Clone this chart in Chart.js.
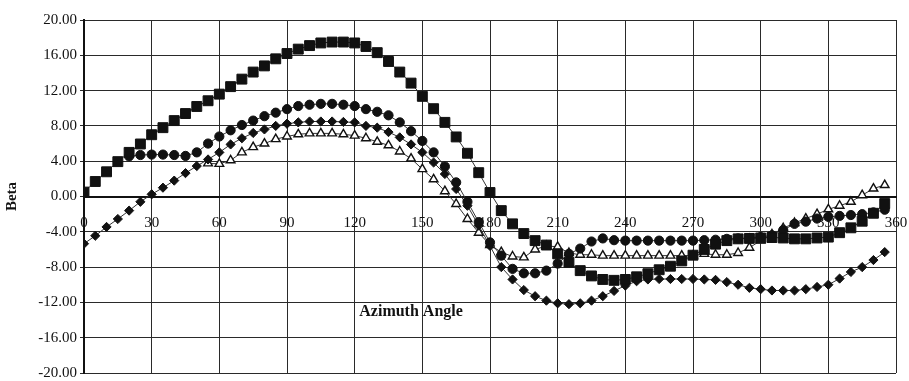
<!DOCTYPE html>
<html>
<head>
<meta charset="utf-8">
<script src="https://cdn.jsdelivr.net/npm/chart.js@4.4.1/dist/chart.umd.min.js"></script>
<style>
  html, body { margin: 0; padding: 0; background: #fff; }
  canvas { display: block; }
</style>
</head>
<body>
<canvas id="betaChart" width="909" height="381"></canvas>
<script>
// azimuth angles, every 5 degrees
const angles = [0, 5, 10, 15, 20, 25, 30, 35, 40, 45, 50, 55, 60, 65, 70, 75, 80, 85,
  90, 95, 100, 105, 110, 115, 120, 125, 130, 135, 140, 145, 150, 155, 160, 165, 170, 175,
  180, 185, 190, 195, 200, 205, 210, 215, 220, 225, 230, 235, 240, 245, 250, 255, 260, 265,
  270, 275, 280, 285, 290, 295, 300, 305, 310, 315, 320, 325, 330, 335, 340, 345, 350, 355];

// squares
const betaSquare = [0.5, 1.7, 2.8, 3.95, 5.0, 5.95, 7.0, 7.8, 8.6, 9.4, 10.2, 10.85, 11.6, 12.45, 13.3, 14.1, 14.8, 15.6,
  16.2, 16.7, 17.1, 17.4, 17.5, 17.5, 17.4, 17.0, 16.3, 15.3, 14.1, 12.85, 11.35, 9.95, 8.4, 6.75, 4.9, 2.7,
  0.45, -1.6, -3.1, -4.2, -5.0, -5.5, -6.5, -7.45, -8.4, -9.0, -9.4, -9.5, -9.4, -9.1, -8.75, -8.3, -7.9, -7.3,
  -6.65, -6.0, -5.4, -5.0, -4.8, -4.75, -4.7, -4.65, -4.7, -4.8, -4.8, -4.7, -4.6, -4.1, -3.55, -2.8, -1.9, -0.8];

// circles (hidden under the squares below 20 deg)
const betaCircle = [null, null, null, null, 4.55, 4.7, 4.75, 4.75, 4.7, 4.6, 5.0, 6.0, 6.8, 7.5, 8.1, 8.6, 9.1, 9.5,
  9.9, 10.25, 10.4, 10.5, 10.5, 10.4, 10.25, 9.9, 9.6, 9.2, 8.4, 7.4, 6.3, 5.0, 3.4, 1.6, -0.6, -2.9,
  -5.2, -6.7, -8.2, -8.7, -8.7, -8.4, -7.6, -6.5, -5.9, -5.1, -4.75, -4.95, -5.0, -5.0, -5.0, -5.0, -5.0, -5.0,
  -5.0, -4.95, -4.9, -4.8, -4.75, -4.7, -4.6, -4.4, -3.8, -3.1, -2.85, -2.5, -2.3, -2.2, -2.1, -2.0, -1.8, -1.5];

// diamonds
const betaDiamond = [-5.35, -4.45, -3.45, -2.55, -1.6, -0.6, 0.25, 1.0, 1.8, 2.65, 3.45, 4.2, 5.0, 5.9, 6.6, 7.2, 7.6, 8.0,
  8.25, 8.4, 8.5, 8.5, 8.5, 8.45, 8.4, 8.0, 7.8, 7.3, 6.7, 5.9, 5.0, 3.85, 2.55, 0.85, -1.05, -3.3,
  -5.6, -8.0, -9.4, -10.6, -11.3, -11.8, -12.1, -12.2, -12.1, -11.8, -11.3, -10.7, -10.1, -9.6, -9.4, -9.35, -9.35, -9.35,
  -9.35, -9.4, -9.45, -9.7, -10.0, -10.35, -10.5, -10.65, -10.65, -10.65, -10.5, -10.25, -10.0, -9.3, -8.55, -8.0, -7.2, -6.3];

// open triangles (start at 55 deg)
const betaTriangle = [null, null, null, null, null, null, null, null, null, null, null, 3.75, 3.7, 4.1, 5.0, 5.6, 6.0, 6.5,
  6.8, 7.05, 7.15, 7.15, 7.15, 7.05, 6.9, 6.6, 6.2, 5.8, 5.1, 4.3, 3.1, 1.95, 0.6, -0.85, -2.55, -4.1,
  -5.5, -6.3, -6.8, -6.9, -6.0, -5.6, -5.7, -6.4, -6.6, -6.6, -6.7, -6.7, -6.7, -6.7, -6.7, -6.7, -6.7, -6.7,
  -6.7, -6.5, -6.6, -6.6, -6.4, -5.8, -5.0, -4.3, -3.6, -3.0, -2.5, -2.0, -1.45, -1.05, -0.6, 0.15, 0.9, 1.3];

const xMin = 0, xMax = 360, xStep = 30;
const yMin = -20, yMax = 20, yStep = 4;

const serif = '"Liberation Serif", "DejaVu Serif", serif';
const ink = '#111';

function pts(vals) {
  return angles.map((a, i) => ({ x: a, y: vals[i] }));
}

// x axis caption sits inside the plot, left of centre
const axisCaption = {
  id: 'axisCaption',
  afterDatasetsDraw(chart) {
    const { ctx, scales } = chart;
    ctx.save();
    ctx.font = 'bold 16px ' + serif;
    ctx.fillStyle = ink;
    ctx.textAlign = 'center';
    ctx.textBaseline = 'middle';
    ctx.fillText('Azimuth Angle', scales.x.getPixelForValue(145), scales.y.getPixelForValue(-13.1));
    ctx.restore();
  }
};

const ctx = document.getElementById('betaChart');

const betaChart = new Chart(ctx, {
  type: 'line',
  data: {
    datasets: [{
      label: 'squares',
      data: pts(betaSquare),
      borderColor: '#333',
      borderWidth: 1,
      pointStyle: 'rect',
      pointRadius: 7,
      pointBackgroundColor: ink,
      pointBorderColor: ink,
      pointBorderWidth: 1
    },
    {
      label: 'circles',
      data: pts(betaCircle),
      borderColor: '#333',
      borderWidth: 1,
      pointStyle: 'circle',
      pointRadius: 4.6,
      pointBackgroundColor: ink,
      pointBorderColor: ink,
      pointBorderWidth: 1
    },
    {
      label: 'diamonds',
      data: pts(betaDiamond),
      borderColor: '#333',
      borderWidth: 1,
      pointStyle: 'rectRot',
      pointRadius: 4.6,
      pointBackgroundColor: ink,
      pointBorderColor: ink,
      pointBorderWidth: 1
    },
    {
      label: 'triangles',
      data: pts(betaTriangle),
      borderColor: '#333',
      borderWidth: 1,
      pointStyle: 'triangle',
      pointRadius: 5,
      pointBackgroundColor: '#fff',
      pointBorderColor: ink,
      pointBorderWidth: 1.4
    }]
  },
  options: {
    responsive: false,
    animation: false,
    layout: {
      padding: { left: 0, right: 13, top: 20, bottom: 3 }
    },
    plugins: {
      legend: { display: false },
      tooltip: { enabled: false }
    },
    scales: {
      x: {
        type: 'linear',
        position: { y: 0 },
        min: xMin,
        max: xMax,
        afterFit: (scale) => {
          scale.height = 0;
          scale.paddingLeft = 0;
          scale.paddingRight = 0;
        },
        ticks: {
          stepSize: xStep,
          color: ink,
          padding: 14,
          maxRotation: 0,
          font: { family: serif, size: 15 }
        },
        grid: {
          color: '#2a2a2a',
          lineWidth: 1,
          tickLength: 4
        },
        border: { color: ink, width: 2 }
      },
      y: {
        type: 'linear',
        min: yMin,
        max: yMax,
        afterFit: (scale) => {
          scale.width = 84;
          scale.paddingTop = 0;
          scale.paddingBottom = 0;
        },
        ticks: {
          stepSize: yStep,
          color: ink,
          padding: 3,
          font: { family: serif, size: 15 },
          callback: (v) => v.toFixed(2)
        },
        grid: {
          color: '#2a2a2a',
          lineWidth: 1,
          tickLength: 4
        },
        border: { color: ink, width: 2 },
        title: {
          display: true,
          text: 'Beta',
          color: ink,
          padding: { top: 3, bottom: 0 },
          font: { family: serif, size: 15, weight: 'bold' }
        }
      }
    }
  },
  plugins: [axisCaption]
});
</script>
</body>
</html>
